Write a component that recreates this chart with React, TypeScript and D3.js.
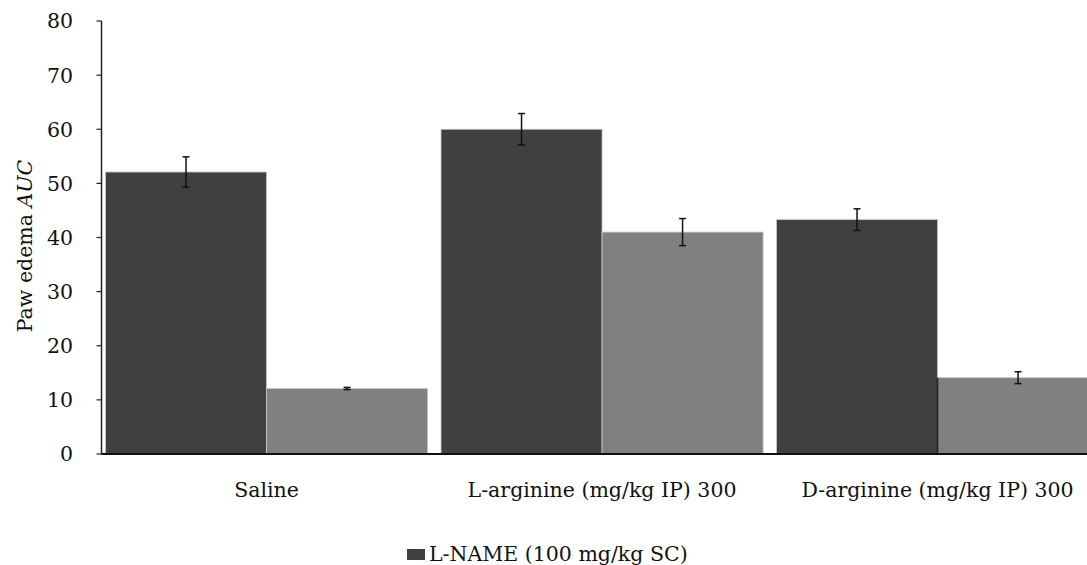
import React, { useEffect, useRef } from "react";
import * as d3 from "d3";

const categories = ["Saline", "L-arginine (mg/kg IP) 300", "D-arginine (mg/kg IP) 300"];
const seriesKeys = ["lname", "other"];
const darkValues = [52.1, 60.0, 43.3];
const darkErrors = [2.8, 2.9, 2.0];
const lightValues = [12.1, 41.0, 14.1];
const lightErrors = [0.2, 2.5, 1.1];
const yTicks = [0, 10, 20, 30, 40, 50, 60, 70, 80];
const legendLabel = "L-NAME (100 mg/kg SC)";

const W = 1087;
const H = 565;
const FONT = "'DejaVu Serif', serif";
const FS = 20.5;

export default function App() {
  const ref = useRef<SVGSVGElement | null>(null);

  useEffect(() => {
    const svg = d3.select(ref.current);
    svg.selectAll("*").remove();

    const axisX = 101.5;
    const y = d3.scaleLinear().domain([0, 80]).range([454, 21]);
    const x0 = d3
      .scaleBand<string>()
      .domain(categories)
      .range([98.8, 1105.3])
      .paddingInner(0.04)
      .paddingOuter(0.02);
    const x1 = d3.scaleBand<string>().domain(seriesKeys).range([0, x0.bandwidth()]).padding(0);

    const colors: Record<string, string> = { lname: "#404040", other: "#808080" };

    const data = categories.flatMap((c, i) => [
      { cat: c, key: "lname", v: darkValues[i], e: darkErrors[i] },
      { cat: c, key: "other", v: lightValues[i], e: lightErrors[i] },
    ]);

    const g = svg.append("g");

    g.selectAll("rect.bar")
      .data(data)
      .enter()
      .append("rect")
      .attr("class", "bar")
      .attr("x", (d) => (x0(d.cat) as number) + (x1(d.key) as number))
      .attr("y", (d) => y(d.v))
      .attr("width", x1.bandwidth())
      .attr("height", (d) => y(0) - y(d.v))
      .attr("fill", (d) => colors[d.key])
      .attr("stroke", "#c8c8c8")
      .attr("stroke-width", 0.8);

    const lastCat = categories[2];
    const lx = (x0(lastCat) as number) + (x1("other") as number);
    g.append("line")
      .attr("x1", lx)
      .attr("x2", lx)
      .attr("y1", y(lightValues[2]))
      .attr("y2", y(0))
      .attr("stroke", "#222")
      .attr("stroke-width", 1.5);

    const eb = g.selectAll("g.err").data(data).enter().append("g").attr("class", "err");
    const cx = (d: any) => (x0(d.cat) as number) + (x1(d.key) as number) + x1.bandwidth() / 2;
    eb.append("line")
      .attr("x1", cx)
      .attr("x2", cx)
      .attr("y1", (d) => y(d.v + d.e))
      .attr("y2", (d) => y(d.v - d.e))
      .attr("stroke", "#111")
      .attr("stroke-width", 1.5);
    eb.append("line")
      .attr("x1", (d) => cx(d) - 3.5)
      .attr("x2", (d) => cx(d) + 3.5)
      .attr("y1", (d) => y(d.v + d.e))
      .attr("y2", (d) => y(d.v + d.e))
      .attr("stroke", "#111")
      .attr("stroke-width", 1.5);
    eb.append("line")
      .attr("x1", (d) => cx(d) - 3.5)
      .attr("x2", (d) => cx(d) + 3.5)
      .attr("y1", (d) => y(d.v - d.e))
      .attr("y2", (d) => y(d.v - d.e))
      .attr("stroke", "#111")
      .attr("stroke-width", 1.5);

    g.append("line")
      .attr("x1", axisX)
      .attr("x2", axisX)
      .attr("y1", y(80))
      .attr("y2", y(0))
      .attr("stroke", "#222")
      .attr("stroke-width", 1.5);
    const ticks = g.selectAll("g.tick").data(yTicks).enter().append("g");
    ticks
      .append("line")
      .attr("x1", axisX - 5)
      .attr("x2", axisX)
      .attr("y1", (d) => y(d))
      .attr("y2", (d) => y(d))
      .attr("stroke", "#222")
      .attr("stroke-width", 1.2);
    ticks
      .append("text")
      .attr("x", 73)
      .attr("y", (d) => y(d))
      .attr("dy", "0.36em")
      .attr("text-anchor", "end")
      .attr("font-family", FONT)
      .attr("font-size", FS)
      .attr("fill", "#111")
      .text((d) => String(d));

    g.append("line")
      .attr("x1", axisX)
      .attr("x2", W)
      .attr("y1", y(0))
      .attr("y2", y(0))
      .attr("stroke", "#111")
      .attr("stroke-width", 1.8);

    g.selectAll("text.cat")
      .data(categories)
      .enter()
      .append("text")
      .attr("class", "cat")
      .attr("x", (d) => (x0(d) as number) + x0.bandwidth() / 2)
      .attr("y", 497)
      .attr("text-anchor", "middle")
      .attr("font-family", FONT)
      .attr("font-size", FS)
      .attr("fill", "#111")
      .text((d) => d)
      .each(function () {
        const el = this as SVGTextElement;
        const w = el.getComputedTextLength();
        const cxv = +el.getAttribute("x")!;
        if (cxv + w / 2 > W - 4) el.setAttribute("x", String(W - 4 - w / 2));
      });

    const yt = g
      .append("text")
      .attr("transform", "translate(32,246) rotate(-90)")
      .attr("text-anchor", "middle")
      .attr("font-family", FONT)
      .attr("font-size", FS)
      .attr("fill", "#111");
    yt.append("tspan").text("Paw edema ");
    yt.append("tspan").attr("font-style", "italic").text("AUC");

    g.append("rect")
      .attr("x", 407)
      .attr("y", 549)
      .attr("width", 18)
      .attr("height", 11)
      .attr("fill", colors.lname);
    g.append("text")
      .attr("x", 429)
      .attr("y", 561)
      .attr("font-family", FONT)
      .attr("font-size", FS)
      .attr("fill", "#111")
      .text(legendLabel);
  }, []);

  return (
    <svg
      ref={ref}
      width={W}
      height={H}
      style={{ position: "absolute", left: 0, top: 0, background: "#fff" }}
    />
  );
}
